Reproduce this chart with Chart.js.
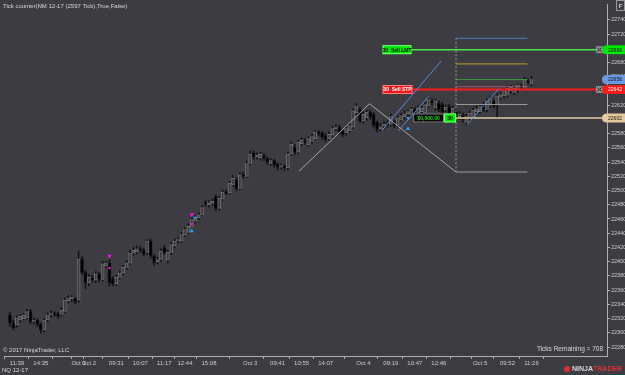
<!DOCTYPE html>
<html>
<head>
<meta charset="utf-8">
<script src="https://cdn.jsdelivr.net/npm/chart.js@4.4.0/dist/chart.umd.min.js"></script>
<style>
  html, body { margin: 0; padding: 0; background: #3d3c42; }
  #wrap { width: 625px; height: 375px; }
</style>
</head>
<body>
<div id="wrap"><canvas id="chart"></canvas></div>
<script>
// 2597 tick bars, oldest first
const opens = [
  22325,22314,22311,22318,22320,22321,22330,22316,22318,22312,22304,22318,22325,22327,22326,22326,22330,22345,22348,22348,22346,22404,22385,22370,22377,22374,22383,22375,22394,22398,22376,22369,22378,22384,22392,22398,
  22412,22414,22418,22416,22413,22429,22408,22400,22403,22419,22402,22413,22422,22429,22429,22438,22441,22448,22457,22462,22466,22483,22480,22482,22491,22475,22488,22498,22497,22508,22515,22503,22522,22520,22538,
  22553,22547,22546,22549,22545,22538,22542,22537,22533,22534,22532,22551,22561,22554,22566,22570,22564,22569,22573,22582,22581,22577,22573,22578,22587,22589,22584,22581,22584,22589,22609,22614,22598,22602,22610,22607,22596,
  22587,22591,22594,22593,22597,22592,22599,22604,22608,22607,22614,22609,22611,22609,22619,22626,22616,22623,22621,22613,22618,22609,22612,22604,22606,22596,22601,22604,22611,22611,22621,22614,22620,22626,22621,22631,22633,22634,22640,22638,22641,22647,22644,22654,22650
];
const highs = [
  22329,22318,22324,22326,22327,22333,22333,22321,22320,22314,22320,22328,22331,22330,22329,22335,22349,22352,22353,22350,22415,22407,22388,22382,22381,22386,22385,22400,22401,22403,22379,22381,22387,22395,22402,22416,
  22420,22422,22421,22419,22431,22432,22410,22406,22418,22423,22416,22427,22432,22434,22441,22448,22453,22462,22465,22469,22479,22486,22486,22488,22494,22492,22501,22501,22513,22521,22518,22525,22526,22541,22555,
  22556,22553,22554,22552,22547,22545,22544,22539,22538,22537,22554,22568,22565,22571,22574,22573,22576,22579,22585,22584,22583,22580,22582,22590,22593,22592,22586,22590,22594,22615,22623,22617,22611,22613,22613,22610,22598,
  22594,22597,22598,22607,22599,22605,22609,22612,22613,22617,22617,22619,22619,22624,22632,22629,22629,22626,22624,22620,22621,22619,22615,22611,22609,22607,22612,22616,22619,22621,22624,22629,22632,22629,22636,22638,22643,22647,22648,22647,22651,22650,22659,22657,22661
];
const lows = [
  22309,22304,22308,22315,22318,22319,22313,22312,22309,22300,22301,22316,22322,22323,22321,22323,22328,22342,22344,22341,22343,22382,22362,22366,22371,22371,22372,22373,22391,22366,22366,22366,22375,22381,22389,22396,
  22409,22411,22413,22408,22410,22405,22395,22397,22400,22411,22398,22410,22419,22426,22427,22436,22439,22446,22454,22459,22464,22478,22477,22479,22472,22472,22486,22494,22495,22506,22500,22501,22517,22518,22536,
  22544,22544,22543,22542,22537,22535,22533,22529,22530,22528,22529,22549,22551,22551,22563,22565,22562,22566,22571,22577,22572,22569,22570,22575,22584,22579,22576,22578,22582,22587,22606,22595,22595,22599,22600,22589,22582,
  22583,22587,22589,22590,22588,22589,22597,22600,22604,22604,22606,22606,22601,22606,22616,22620,22613,22611,22608,22610,22606,22606,22601,22600,22596,22592,22598,22601,22608,22608,22611,22611,22617,22616,22604,22628,22630,22631,22637,22635,22638,22642,22641,22649,22647
];
const closes = [
  22314,22307,22321,22323,22325,22330,22316,22318,22312,22304,22318,22325,22327,22326,22324,22332,22346,22348,22350,22344,22404,22385,22370,22378,22374,22383,22375,22397,22398,22370,22369,22378,22384,22392,22398,22412,
  22416,22418,22416,22411,22429,22408,22399,22403,22415,22412,22413,22424,22429,22431,22438,22445,22450,22459,22462,22466,22476,22481,22483,22485,22475,22489,22498,22496,22510,22517,22503,22522,22520,22538,22551,
  22547,22550,22551,22545,22540,22542,22536,22533,22535,22532,22551,22565,22554,22568,22571,22568,22573,22576,22582,22580,22575,22572,22579,22587,22589,22582,22579,22587,22591,22612,22618,22598,22607,22610,22603,22592,22586,
  22590,22593,22592,22604,22591,22602,22605,22608,22611,22614,22609,22616,22616,22621,22628,22623,22626,22614,22611,22617,22609,22616,22604,22608,22600,22604,22609,22613,22615,22618,22614,22626,22629,22619,22633,22635,22640,22644,22645,22644,22648,22645,22656,22652,22656
];

// time axis (bar index -> label)
const timeTicks = [2, 9, 16, 20, 23, 31, 38, 45, 51, 58, 70, 78, 85, 92, 103, 111, 118, 125, 132, 137, 145, 152];
const timeLabels = ['11:39', '14:35', '', 'Oct 1', 'Oct 2', '09:31', '10:07', '11:17', '12:44', '15:08', 'Oct 3', '09:41', '10:55', '14:07', 'Oct 4', '09:19', '10:47', '12:46', '', 'Oct 5', '09:52', '11:26'];
const priceTicks = [22280, 22300, 22320, 22340, 22360, 22380, 22400, 22420, 22440, 22460, 22480, 22500, 22520, 22540, 22560, 22580, 22600, 22620, 22640, 22660, 22680, 22700, 22720, 22740];

// drawings, as [bar index, price]
const zigzag = [[84.2, 22527], [104.8, 22622], [130.0, 22526]];
const trend1 = [[108.3, 22584], [125.7, 22682]];
const trend2 = [[113.2, 22584], [122.2, 22633]];
const trend3 = [[133.2, 22593], [142.4, 22643]];
const fibFrom = 130.0;
const fibTo = 150.8;
const fibLevels = [22714, 22678, 22656, 22646, 22621, 22526];

// orders and last price
const targetPrice = 22698;
const stopPrice = 22642;
const entryPrice = 22602;
const lastPrice = 22656;
const orderQty = 30;

// signal markers
const sellArrows = [[29, 22408], [53, 22466]];
const sellDots = [[29, 22391], [53, 22453]];
const buyArrows = [[53, 22443], [116, 22587]];
const buyDots = [[54, 22462], [116, 22602]];

const FONT = '"Liberation Sans", Arial, sans-serif';
const BG = '#3d3c42';
const fibColors = ['#4a7fc8', '#c8a020', '#3a9a3a', '#b0506a', '#9a9a9a', '#9a9a9a'];

const idx = opens.map((_, i) => i);
const up = idx.map(i => closes[i] >= opens[i]);
const wickData = idx.map(i => ({ x: i, y: [lows[i], highs[i]] }));
const bodyData = idx.map(i => ({ x: i, y: [Math.min(opens[i], closes[i]), Math.max(opens[i], closes[i])] }));

function seg(points, color, width, dash) {
    return {
        type: 'line',
        data: points.map(p => ({ x: p[0], y: p[1] })),
        borderColor: color,
        borderWidth: width,
        borderDash: dash || [],
        pointRadius: 0,
        fill: false,
        tension: 0,
        order: 1
    };
}

function marks(points, color, style, rot, r) {
    return {
        type: 'scatter',
        data: points.map(p => ({ x: p[0], y: p[1] })),
        pointStyle: style,
        rotation: rot,
        pointRadius: r,
        backgroundColor: color,
        borderColor: color,
        borderWidth: 0,
        order: 0
    };
}

const datasets = [
    { type: 'bar', data: bodyData, barThickness: 3, grouped: false, minBarLength: 1,
      backgroundColor: up.map(u => u ? '#3a393f' : '#000000'),
      borderColor: up.map(u => u ? '#707070' : '#101010'),
      borderWidth: 1, borderSkipped: false, order: 10 },
    { type: 'bar', data: wickData, barThickness: 1, grouped: false,
      backgroundColor: '#141414', order: 11 },
    seg(zigzag, '#a8a8a8', 1),
    seg(trend1, '#5a8ede', 1),
    seg(trend2, '#5a8ede', 1),
    seg(trend3, '#5a8ede', 1),
    seg([[fibFrom, fibLevels[0]], [fibFrom, fibLevels[5]]], '#9a9a9a', 1, [2, 2]),
    ...fibLevels.map((lv, i) => seg([[fibFrom, lv], [fibTo, lv]], fibColors[i], 1)),
    seg([[fibFrom, entryPrice], [174, entryPrice]], '#b8a588', 2),
    seg([[108.6, stopPrice], [174, stopPrice]], '#ff1a1a', 2),
    seg([[117, targetPrice], [174, targetPrice]], '#44ee44', 1.5),
    marks(sellArrows, '#ff10ff', 'triangle', 180, 2.5),
    marks(sellDots, '#ff10ff', 'rect', 0, 1.5),
    marks(buyArrows, '#28a0ff', 'triangle', 0, 2.5),
    marks(buyDots, '#28a0ff', 'rect', 0, 1.5)
];

const overlay = {
    id: 'overlay',
    beforeDraw(chart) {
        const c = chart.ctx;
        c.save();
        c.fillStyle = BG;
        c.fillRect(0, 0, chart.width, chart.height);
        c.restore();
    },
    afterDraw(chart) {
        const c = chart.ctx;
        const xs = chart.scales.x, ys = chart.scales.y;
        const px = v => xs.getPixelForValue(v);
        const py = v => ys.getPixelForValue(v);
        c.save();
        c.textBaseline = 'middle';

        // top-left caption
        c.font = '6px ' + FONT;
        c.fillStyle = '#d8d8d8';
        c.textAlign = 'left';
        c.fillText('Tick counter(NM 12-17 (2597 Tick),True,False)', 3, 6);
        c.fillText('\u00a9 2017 NinjaTrader, LLC', 3, 350);
        c.fillText('NQ 12-17', 2, 370);
        c.textAlign = 'right';
        c.font = '6.5px ' + FONT;
        c.fillText('Ticks Remaining = 708', 603, 349);

        // F box
        c.strokeStyle = '#9a9a9a';
        c.lineWidth = 1;
        c.strokeRect(616.5, 0.5, 8, 10);
        c.textAlign = 'center';
        c.font = 'bold 6px ' + FONT;
        c.fillStyle = '#d0d0d0';
        c.fillText('F', 620.5, 6);

        // order labels
        function box(x1, x2, y, fill, stroke, text, tcol) {
            c.fillStyle = fill;
            c.fillRect(x1, y - 4.5, x2 - x1, 9);
            c.strokeStyle = stroke;
            c.strokeRect(x1 + 0.5, y - 4, x2 - x1 - 1, 8);
            c.fillStyle = tcol;
            c.font = 'bold 5px ' + FONT;
            c.textAlign = 'center';
            c.fillText(text, (x1 + x2) / 2, y + 0.5);
        }
        const yT = py(targetPrice), yS = py(stopPrice), yE = py(entryPrice);
        box(px(108.6), px(117), yT, '#00e600', '#7dff7d', orderQty + '  Sell LMT', '#0a0a0a');
        box(px(108.6), px(117.3), yS, '#f01818', '#ff8080', orderQty + '  Sell STP', '#ffffff');
        box(px(117.5), px(126.5), yE, '#050505', '#8a8a8a', '$0,000.00', '#22dd22');
        box(px(126.5), px(130), yE, '#00e600', '#7dff7d', String(orderQty), '#0a0a0a');

        // close buttons
        [yT, yS].forEach(y => {
            c.fillStyle = '#8c8c8c';
            c.fillRect(596, y - 3.5, 7, 7);
            c.strokeStyle = '#2a2a2a';
            c.beginPath();
            c.moveTo(597.5, y - 2); c.lineTo(601.5, y + 2);
            c.moveTo(601.5, y - 2); c.lineTo(597.5, y + 2);
            c.stroke();
        });

        // price tags on the axis
        function tag(price, fill, tcol) {
            const y = py(price);
            c.fillStyle = fill;
            c.beginPath();
            c.moveTo(607, y - 4.5);
            c.lineTo(625, y - 4.5);
            c.lineTo(625, y + 4.5);
            c.lineTo(607, y + 4.5);
            c.quadraticCurveTo(602, y + 4.5, 602, y);
            c.quadraticCurveTo(602, y - 4.5, 607, y - 4.5);
            c.fill();
            c.fillStyle = tcol;
            c.font = '5px ' + FONT;
            c.textAlign = 'center';
            c.fillText(String(price), 615, y + 0.5);
        }
        tag(targetPrice, '#00e600', '#101010');
        tag(lastPrice, '#6a9ae0', '#101010');
        tag(stopPrice, '#ff1a1a', '#ffffff');
        tag(entryPrice, '#e6c9a0', '#101010');

        // logo
        c.textAlign = 'left';
        c.font = 'bold 7px ' + FONT;
        c.fillStyle = '#e03030';
        c.beginPath();
        c.arc(567, 369, 3, 0, Math.PI * 2);
        c.fill();
        c.fillStyle = '#d8d8d8';
        c.fillText('NINJA', 572, 369.5);
        const w = c.measureText('NINJA').width;
        c.fillStyle = '#e03030';
        c.fillText('TRADER', 572 + w, 369.5);
        c.restore();
    }
};

new Chart(document.getElementById('chart'), {
    type: 'bar',
    data: { datasets: datasets },
    plugins: [overlay],
    options: {
        responsive: true,
        maintainAspectRatio: false,
        animation: false,
        devicePixelRatio: 1,
        layout: { padding: 0 },
        plugins: { legend: { display: false }, tooltip: { enabled: false } },
        scales: {
            x: {
                type: 'linear', min: -1.74, max: 174, offset: false,
                afterBuildTicks: s => { s.ticks = timeTicks.map(v => ({ value: v })); },
                afterFit: s => { s.height = 19; },
                ticks: { callback: (v, i) => timeLabels[i], color: '#cfcfcf', font: { size: 6, family: FONT },
                         maxRotation: 0, autoSkip: false, padding: 1 },
                grid: { drawOnChartArea: false, color: '#b0b0b0', tickLength: 3 },
                border: { color: '#b0b0b0' }
            },
            y: {
                position: 'right', min: 22267.4, max: 22761.8,
                afterBuildTicks: s => { s.ticks = priceTicks.map(v => ({ value: v })); },
                afterFit: s => { s.width = 18; },
                ticks: { callback: v => String(v), color: '#cfcfcf', font: { size: 5.5, family: FONT }, padding: 1 },
                grid: { drawOnChartArea: false, color: '#b0b0b0', tickLength: 3 },
                border: { color: '#b0b0b0' }
            }
        }
    }
});
</script>
</body>
</html>
